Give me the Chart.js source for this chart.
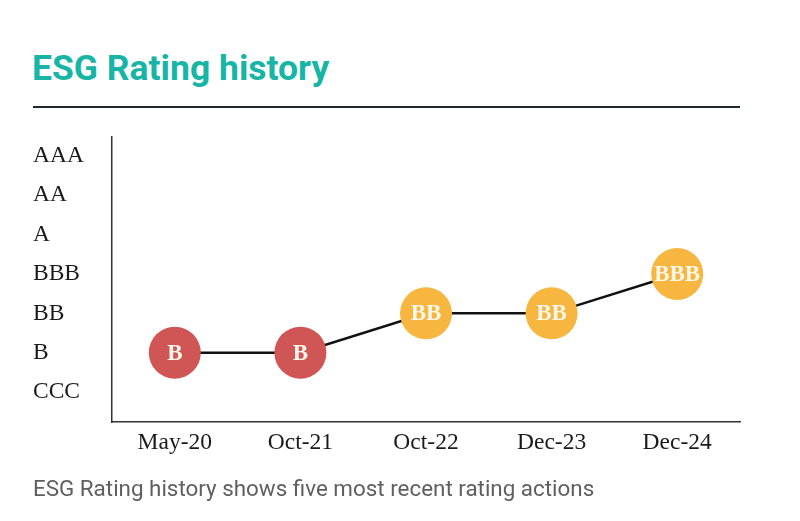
<!DOCTYPE html>
<html>
<head>
<meta charset="utf-8">
<script src="https://cdn.jsdelivr.net/npm/chart.js@4"></script>
<style>
  html, body { margin: 0; padding: 0; background: #fff; }
  #wrap { position: relative; width: 800px; height: 521px; overflow: hidden; }
  #title {
    position: absolute; left: 32px; top: 47px; margin: 0;
    font-family: Roboto, sans-serif; font-weight: 700; font-size: 35.5px;
    color: #17b5a6; line-height: 42px;
  }
  #rule { position: absolute; left: 33px; top: 106px; width: 707px; height: 2px; background: #1c2a30; }
  #caption {
    position: absolute; left: 33px; top: 474px; margin: 0;
    font-family: Roboto, sans-serif; font-weight: 400; font-size: 22.4px;
    color: #5f5f5f; line-height: 28px;
  }
  #chart { position: absolute; left: 0; top: 0; }
</style>
</head>
<body>
<div id="wrap">
  <h1 id="title">ESG Rating history</h1>
  <div id="rule"></div>
  <canvas id="chart" width="800" height="521"></canvas>
  <p id="caption">ESG Rating history shows five most recent rating actions</p>
</div>
<script>
// rating scale, bottom to top
const ratingScale = ['CCC', 'B', 'BB', 'BBB', 'A', 'AA', 'AAA'];
const actionDates = ['May-20', 'Oct-21', 'Oct-22', 'Dec-23', 'Dec-24'];
const actionRatings = ['B', 'B', 'BB', 'BB', 'BBB'];

const ratingColors = { CCC: '#d05656', B: '#d05656', BB: '#f6b63f', BBB: '#f6b63f', A: '#1ab3a0', AA: '#1ab3a0', AAA: '#1ab3a0' };
const serif = '"Liberation Serif", "DejaVu Serif", serif';

const pointText = {
    id: 'pointText',
    afterDatasetsDraw(chart) {
        const ctx = chart.ctx;
        const meta = chart.getDatasetMeta(0);
        ctx.save();
        ctx.font = 'bold 23px ' + serif;
        ctx.fillStyle = '#fff8ea';
        ctx.textAlign = 'center';
        ctx.textBaseline = 'middle';
        meta.data.forEach((pt, i) => {
            ctx.fillText(actionRatings[i], pt.x, pt.y + 1);
        });
        ctx.restore();
    }
};

const ctx = document.getElementById('chart').getContext('2d');
new Chart(ctx, {
    type: 'line',
    data: {
        labels: actionDates,
        datasets: [{
            data: actionRatings.map(r => ratingScale.indexOf(r)),
            borderColor: '#111',
            borderWidth: 2.5,
            pointRadius: 26,
            pointHoverRadius: 26,
            pointBorderWidth: 0,
            pointBackgroundColor: actionRatings.map(r => ratingColors[r]),
            fill: false,
            tension: 0,
        }]
    },
    options: {
        responsive: false,
        animation: false,
        events: [],
        layout: { padding: { left: 33, top: 137, right: 60, bottom: 39 } },
        plugins: { legend: { display: false }, tooltip: { enabled: false } },
        scales: {
            x: {
                offset: true,
                grid: { display: false, drawTicks: false },
                border: { display: true, color: '#333', width: 1.5 },
                ticks: { color: '#1a1a1a', font: { family: serif, size: 23.5 }, padding: 7 },
                afterFit: s => { s.height = 60; },
            },
            y: {
                min: -0.76,
                max: 6.48,
                grid: { display: false, drawTicks: false },
                border: { display: true, color: '#333', width: 1.5 },
                afterBuildTicks: s => { s.ticks = ratingScale.map((_, i) => ({ value: i })); },
                ticks: {
                    color: '#1a1a1a',
                    crossAlign: 'far',
                    font: { family: serif, size: 23.5 },
                    callback: v => ratingScale[v],
                },
                afterFit: s => { s.width = 79; },
            }
        }
    },
    plugins: [pointText]
});
</script>
</body>
</html>
